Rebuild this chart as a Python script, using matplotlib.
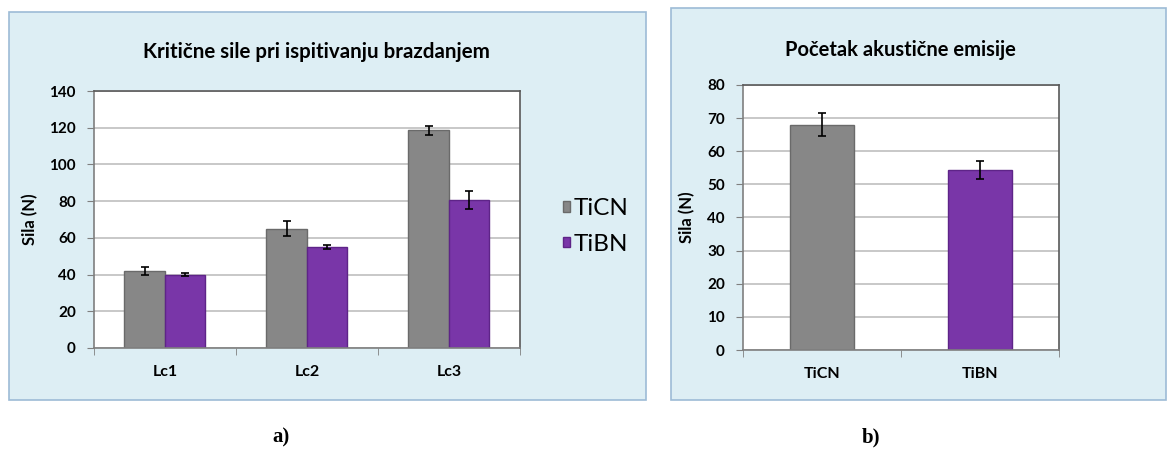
import numpy as np
import matplotlib.pyplot as plt
from matplotlib.patches import Rectangle

plt.rcParams['font.family'] = ['Lato', 'DejaVu Sans']

# left chart: critical loads
categories = ["Lc1", "Lc2", "Lc3"]
ticn_vals = [42, 65, 118.5]
ticn_err = [2.3, 4.0, 2.2]
tibn_vals = [40, 55, 80.5]
tibn_err = [1.0, 1.0, 5.0]

# right chart: onset of acoustic emission
coatings = ["TiCN", "TiBN"]
ae_vals = [68, 54.2]
ae_err = [3.4, 2.7]

GRAY = "#878787"
GRAY_EDGE = "#6a6a6a"
PURPLE = "#7936a8"
PURPLE_EDGE = "#5e2488"
PANEL = "#ddeef4"
PANEL_EDGE = "#9dbbd6"

fig = plt.figure(figsize=(11.67, 4.5), dpi=100)
fig.patch.set_facecolor("white")

# panel backgrounds (behind the axes)
fig.patches.append(Rectangle((0.0077, 0.111), 0.546, 0.862, transform=fig.transFigure,
                             facecolor=PANEL, edgecolor=PANEL_EDGE, lw=1.2, zorder=-10))
fig.patches.append(Rectangle((0.575, 0.111), 0.424, 0.871, transform=fig.transFigure,
                             facecolor=PANEL, edgecolor=PANEL_EDGE, lw=1.2, zorder=-10))


def style_axes(ax, ymax, step, label_x):
    ax.set_facecolor("white")
    ax.set_ylim(0, ymax)
    ax.set_yticks(np.arange(0, ymax + 1, step))
    ax.yaxis.grid(True, color="#bfbfbf", lw=1.2)
    ax.set_axisbelow(True)
    for s in ax.spines.values():
        s.set_color("#7f7f7f")
        s.set_linewidth(1.2)
    ax.spines["top"].set_color("#595959")
    ax.spines["right"].set_color("#595959")
    ax.tick_params(axis="y", length=5, color="#7f7f7f", labelsize=11, pad=8)
    ax.tick_params(axis="x", which="major", length=0, labelsize=11.5, pad=12)
    ax.tick_params(axis="x", which="minor", length=5, color="#7f7f7f")
    for lab in ax.get_yticklabels() + ax.get_xticklabels():
        lab.set_fontweight("bold")
    ax.set_ylabel("Sila (N)", fontsize=12, fontweight="bold")
    ax.yaxis.set_label_coords(label_x, 0.5)


# ---- left ----
ax1 = fig.add_axes([0.0805, 0.2267, 0.365, 0.571])
x = np.arange(len(categories))
w = 0.285
err_kw = dict(ecolor="black", elinewidth=1.2, capsize=3, capthick=1.2)
ax1.bar(x - w / 2, ticn_vals, w, yerr=ticn_err, color=GRAY, edgecolor=GRAY_EDGE,
        lw=1, label="TiCN", error_kw=err_kw)
ax1.bar(x + w / 2, tibn_vals, w, yerr=tibn_err, color=PURPLE, edgecolor=PURPLE_EDGE,
        lw=1, label="TiBN", error_kw=err_kw)
ax1.set_xlim(-0.5, len(categories) - 0.5)
ax1.set_xticks(x)
ax1.set_xticklabels(categories)
ax1.set_xticks(np.arange(len(categories) + 1) - 0.5, minor=True)
style_axes(ax1, 140, 20, -0.131)
ax1.legend(loc="center left", bbox_to_anchor=(0.4824, 0.4967), bbox_transform=fig.transFigure,
           frameon=False, fontsize=17.5, borderpad=0, borderaxespad=0,
           handlelength=0.3, handleheight=0.3, handletextpad=0.15, labelspacing=0.6)
fig.text(0.271, 0.884, "Kritične sile pri ispitivanju brazdanjem", ha="center", va="center",
         fontsize=14.8, fontweight="bold")

# ---- right ----
ax2 = fig.add_axes([0.6367, 0.2222, 0.2708, 0.589])
x2 = np.arange(len(coatings))
ax2.bar(x2, ae_vals, 0.4, yerr=ae_err, color=[GRAY, PURPLE],
        edgecolor=[GRAY_EDGE, PURPLE_EDGE], lw=1, error_kw=err_kw)
ax2.set_xlim(-0.5, len(coatings) - 0.5)
ax2.set_xticks(x2)
ax2.set_xticklabels(coatings)
ax2.set_xticks(np.arange(len(coatings) + 1) - 0.5, minor=True)
style_axes(ax2, 80, 10, -0.152)
fig.text(0.772, 0.889, "Početak akustične emisije", ha="center", va="center",
         fontsize=14.5, fontweight="bold")

# panel captions
fig.text(0.241, 0.028, "a)", ha="center", va="center", fontsize=15, fontweight="bold",
         family=["Liberation Serif", "DejaVu Serif"])
fig.text(0.746, 0.028, "b)", ha="center", va="center", fontsize=15, fontweight="bold",
         family=["Liberation Serif", "DejaVu Serif"])

fig.savefig("out.png", dpi=100, facecolor="white")
